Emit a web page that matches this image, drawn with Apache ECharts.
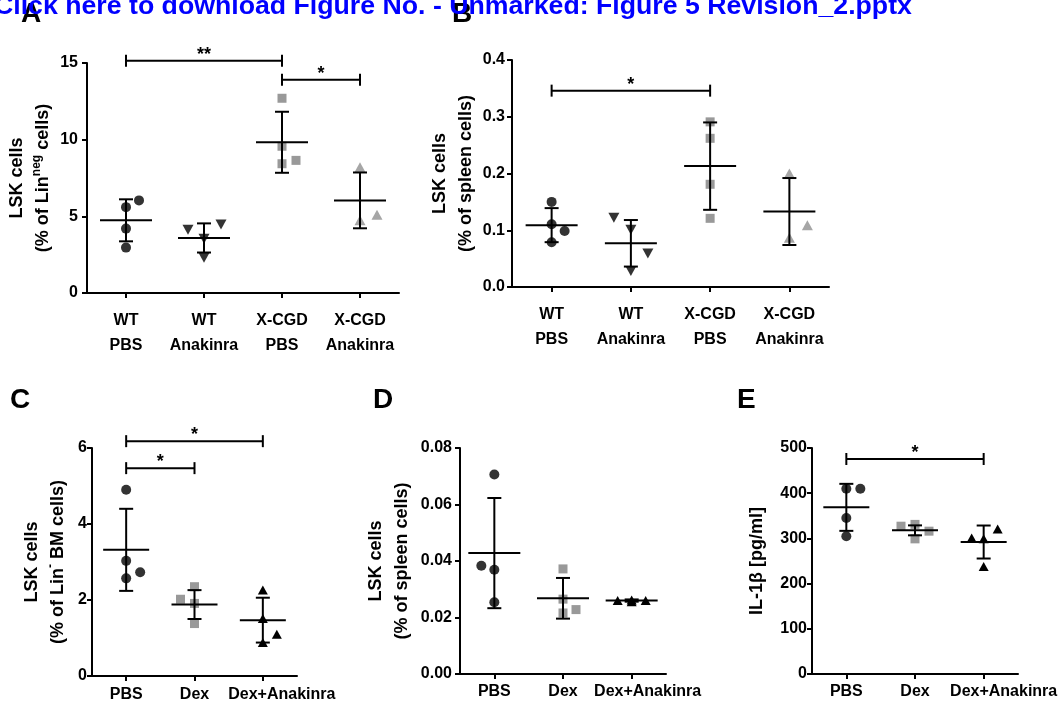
<!DOCTYPE html>
<html>
<head>
<meta charset="utf-8">
<script src="https://cdn.jsdelivr.net/npm/echarts@6/dist/echarts.min.js"></script>
<style>
  html, body { margin: 0; padding: 0; background: #fff; }
  #chart { width: 1062px; height: 704px; }
</style>
</head>
<body>
<div id="chart"></div>
<script>
// categories
var catsAB = ['WT\nPBS', 'WT\nAnakinra', 'X-CGD\nPBS', 'X-CGD\nAnakinra'];
var catsCDE = ['PBS', 'Dex', 'Dex+Anakinra'];

// A: LSK cells (% of Lin neg cells)
var aValues = [[5.6, 4.2, 6.04, 2.96], [4.13, 4.46, 3.54, 2.3], [12.7, 9.57, 8.65, 8.43], [8.2, 4.74, 5.1]];
var aMeans = [4.74, 3.59, 9.83, 6.04];
var aSD = [1.37, 0.95, 1.99, 1.82];
var aSig = [[0, 2, 15.15], [2, 3, 13.9]];
var aSigText = ['**', '*'];

// B: LSK cells (% of spleen cells)
var bValues = [[0.15, 0.1106, 0.0988, 0.079], [0.122, 0.101, 0.059, 0.028], [0.291, 0.262, 0.181, 0.121], [0.2, 0.109, 0.087]];
var bMeans = [0.109, 0.077, 0.213, 0.133];
var bSD = [0.03, 0.041, 0.077, 0.059];
var bSig = [[0, 2, 0.346]];
var bSigText = ['*'];

// C: LSK cells (% of Lin- BM cells)
var cValues = [[4.9, 3.03, 2.73, 2.57], [2.35, 2.02, 1.91, 1.38], [2.26, 1.51, 1.1, 0.88]];
var cMeans = [3.32, 1.88, 1.47];
var cSD = [1.08, 0.38, 0.59];
var cSig = [[0, 2, 6.18], [0, 1, 5.47]];
var cSigText = ['*', '*'];

// D: LSK cells (% of spleen cells)
var dValues = [[0.0706, 0.0383, 0.0369, 0.0254], [0.0372, 0.0265, 0.0228, 0.0216], [0.026, 0.0262, 0.026, 0.0256]];
var dMeans = [0.0428, 0.0268, 0.026];
var dSD = [0.0195, 0.0072, 0.0004];
var dSig = [];
var dSigText = [];

// E: IL-1beta [pg/ml]
var eValues = [[410, 410, 345, 304.6], [327, 331, 316, 299], [301, 299, 321, 238]];
var eMeans = [368.7, 317.8, 292];
var eSD = [52, 11, 36.5];
var eSig = [[0, 2, 475.7]];
var eSigText = ['*'];

// horizontal jitter of the dots (px), like the prism scatter layout
var aJitter = [[0, 0, 13, 0], [-16, 17, 0, 0], [0, 0, 14, 0], [0, 0, 17]];
var bJitter = [[0, 0, 13, 0], [-17, 0, 17, 0], [0, 0, 0, 0], [0, 18, 0]];
var cJitter = [[0, 0, 14, 0], [0, -14, 0, 0], [0, 0, 14, 0]];
var dJitter = [[0, -13, 0, 0], [0, 0, 13, 0], [-14, 0, 14, 0]];
var eJitter = [[0, 14, 0, 0], [-14, 0, 14, 0], [-12, 0, 14, 0]];

var FONT = "'Liberation Sans', Arial, Helvetica, sans-serif";
var DARK = '#333333', GREY = '#999999', GREY2 = '#a6a6a6', BLACK = '#000000';

var styleAB = [
  { symbol: 'circle', size: 10, color: DARK, rotate: 0 },
  { symbol: 'triangle', size: [11, 10], color: DARK, rotate: 180 },
  { symbol: 'rect', size: 9, color: GREY, rotate: 0 },
  { symbol: 'triangle', size: [11, 10], color: GREY2, rotate: 0 }
];
var styleCDE = [
  { symbol: 'circle', size: 10, color: DARK, rotate: 0 },
  { symbol: 'rect', size: 9, color: GREY, rotate: 0 },
  { symbol: 'triangle', size: [10, 9], color: BLACK, rotate: 0 }
];

var panels = [
  { cats: catsAB, vals: aValues, means: aMeans, sd: aSD, sig: aSig, sigText: aSigText, jit: aJitter, sty: styleAB,
    grid: { left: 87, top: 63, width: 312, height: 230 }, max: 15, step: 5, dec: 0, yMargin: 9,
    name: 'LSK cells\n(% of Lin{sup|neg} cells)', nameGap: 29, xMargin: 15, lh: 25, meanW: 26, shiftLast: 0 },
  { cats: catsAB, vals: bValues, means: bMeans, sd: bSD, sig: bSig, sigText: bSigText, jit: bJitter, sty: styleAB,
    grid: { left: 512, top: 60, width: 317, height: 227 }, max: 0.4, step: 0.1, dec: 1, yMargin: 7,
    name: 'LSK cells\n(% of spleen cells)', nameGap: 32, xMargin: 15, lh: 25, meanW: 26, shiftLast: 0 },
  { cats: catsCDE, vals: cValues, means: cMeans, sd: cSD, sig: cSig, sigText: cSigText, jit: cJitter, sty: styleCDE,
    grid: { left: 92, top: 448, width: 205, height: 228 }, max: 6, step: 2, dec: 0, yMargin: 5,
    name: 'LSK cells\n(% of Lin{sup|-} BM cells)', nameGap: 21, xMargin: 11, lh: 16, meanW: 23, shiftLast: 38 },
  { cats: catsCDE, vals: dValues, means: dMeans, sd: dSD, sig: dSig, sigText: dSigText, jit: dJitter, sty: styleCDE,
    grid: { left: 460, top: 448, width: 206, height: 226 }, max: 0.08, step: 0.02, dec: 2, yMargin: 8,
    name: 'LSK cells\n(% of spleen cells)', nameGap: 45, xMargin: 10, lh: 16, meanW: 26, shiftLast: 32 },
  { cats: catsCDE, vals: eValues, means: eMeans, sd: eSD, sig: eSig, sigText: eSigText, jit: eJitter, sty: styleCDE,
    grid: { left: 812, top: 448, width: 206, height: 226 }, max: 500, step: 100, dec: 0, yMargin: 5,
    name: 'IL-1β [pg/ml]', nameGap: 42, xMargin: 10, lh: 16, meanW: 23, shiftLast: 40 }
];

var axisLine = { show: true, lineStyle: { color: '#000', width: 2 } };
var axisTick = { show: true, length: 5, lineStyle: { color: '#000', width: 2 } };

var grids = [], xAxes = [], yAxes = [], series = [];

function errRender(halfW) {
  return function (params, api) {
    var i = api.value(0), m = api.value(1), s = api.value(2);
    var c = api.coord([i, m]);
    var hi = api.coord([i, m + s]);
    var lo = api.coord([i, m - s]);
    var st = { stroke: '#000', lineWidth: 2 };
    return {
      type: 'group',
      children: [
        { type: 'line', shape: { x1: c[0] - halfW, y1: c[1], x2: c[0] + halfW, y2: c[1] }, style: st },
        { type: 'line', shape: { x1: c[0], y1: hi[1], x2: c[0], y2: lo[1] }, style: st },
        { type: 'line', shape: { x1: c[0] - 7, y1: hi[1], x2: c[0] + 7, y2: hi[1] }, style: st },
        { type: 'line', shape: { x1: c[0] - 7, y1: lo[1], x2: c[0] + 7, y2: lo[1] }, style: st }
      ]
    };
  };
}

function sigRender(texts) {
  return function (params, api) {
    var p1 = api.coord([api.value(0), api.value(2)]);
    var p2 = api.coord([api.value(1), api.value(2)]);
    var st = { stroke: '#000', lineWidth: 2 };
    return {
      type: 'group',
      children: [
        { type: 'line', shape: { x1: p1[0], y1: p1[1], x2: p2[0], y2: p2[1] }, style: st },
        { type: 'line', shape: { x1: p1[0], y1: p1[1] - 6, x2: p1[0], y2: p1[1] + 6 }, style: st },
        { type: 'line', shape: { x1: p2[0], y1: p2[1] - 6, x2: p2[0], y2: p2[1] + 6 }, style: st },
        { type: 'text', x: (p1[0] + p2[0]) / 2, y: p1[1] - 6,
          style: { text: texts[params.dataIndex], fill: '#000', font: 'bold 18px ' + FONT, align: 'center', verticalAlign: 'middle' } }
      ]
    };
  };
}

panels.forEach(function (p, k) {
  grids.push(p.grid);
  var last = p.cats.length - 1;
  xAxes.push({
    type: 'category', gridIndex: k, data: p.cats, boundaryGap: true,
    axisLine: axisLine,
    axisTick: { show: true, alignWithLabel: true, length: 5, lineStyle: { color: '#000', width: 2 } },
    axisLabel: {
      color: '#000', fontFamily: FONT, fontWeight: 'bold', fontSize: 16, lineHeight: p.lh, margin: p.xMargin, interval: 0,
      formatter: function (v, i) { return (p.shiftLast && i === last) ? '{r|' + v + '}' : v; },
      rich: { r: { color: '#000', fontFamily: FONT, fontWeight: 'bold', fontSize: 16, lineHeight: p.lh, padding: [0, 0, 0, p.shiftLast] } }
    },
    splitLine: { show: false }
  });
  yAxes.push({
    type: 'value', gridIndex: k, min: 0, max: p.max, interval: p.step,
    axisLine: axisLine, axisTick: axisTick,
    axisLabel: {
      color: '#000', fontFamily: FONT, fontWeight: 'bold', fontSize: 16, margin: p.yMargin,
      formatter: function (v) { return v.toFixed(p.dec); }
    },
    splitLine: { show: false },
    name: p.name, nameLocation: 'middle', nameGap: p.nameGap, nameRotate: 90,
    nameTextStyle: {
      color: '#000', fontFamily: FONT, fontWeight: 'bold', fontSize: 18, lineHeight: 26,
      rich: { sup: { color: '#000', fontFamily: FONT, fontWeight: 'bold', fontSize: 12, lineHeight: 26, verticalAlign: 'top' } }
    }
  });

  p.vals.forEach(function (grp, g) {
    var s = p.sty[g];
    series.push({
      type: 'scatter', xAxisIndex: k, yAxisIndex: k, z: 2,
      symbol: s.symbol, symbolSize: s.size, symbolRotate: s.rotate,
      itemStyle: { color: s.color, opacity: 1 },
      emphasis: { disabled: true },
      data: grp.map(function (v, j) { return { value: [g, v], symbolOffset: [p.jit[g][j] || 0, 0] }; })
    });
  });

  series.push({
    type: 'custom', xAxisIndex: k, yAxisIndex: k, z: 5, clip: false,
    renderItem: errRender(p.meanW),
    data: p.means.map(function (m, g) { return [g, m, p.sd[g]]; })
  });

  if (p.sig.length) {
    series.push({
      type: 'custom', xAxisIndex: k, yAxisIndex: k, z: 5, clip: false,
      renderItem: sigRender(p.sigText),
      data: p.sig
    });
  }
});

var letterFont = 'bold 28px ' + FONT;
var chart = echarts.init(document.getElementById('chart'), null, { renderer: 'canvas' });
chart.setOption({
  backgroundColor: '#fff',
  animation: false,
  grid: grids,
  xAxis: xAxes,
  yAxis: yAxes,
  series: series,
  graphic: [
    { type: 'text', left: 21, top: 0, z: 10, style: { text: 'A', font: letterFont, fill: '#000' } },
    { type: 'text', left: 452, top: 0, z: 10, style: { text: 'B', font: letterFont, fill: '#000' } },
    { type: 'text', left: 10, top: 386, z: 10, style: { text: 'C', font: letterFont, fill: '#000' } },
    { type: 'text', left: 373, top: 386, z: 10, style: { text: 'D', font: letterFont, fill: '#000' } },
    { type: 'text', left: 737, top: 386, z: 10, style: { text: 'E', font: letterFont, fill: '#000' } },
    { type: 'text', left: -6, top: -7, z: 20,
      style: { text: 'Click here to download Figure No. - Unmarked: Figure 5 Revision_2.pptx', font: 'bold 26.7px ' + FONT, fill: '#0000ff' } }
  ]
});
</script>
</body>
</html>
